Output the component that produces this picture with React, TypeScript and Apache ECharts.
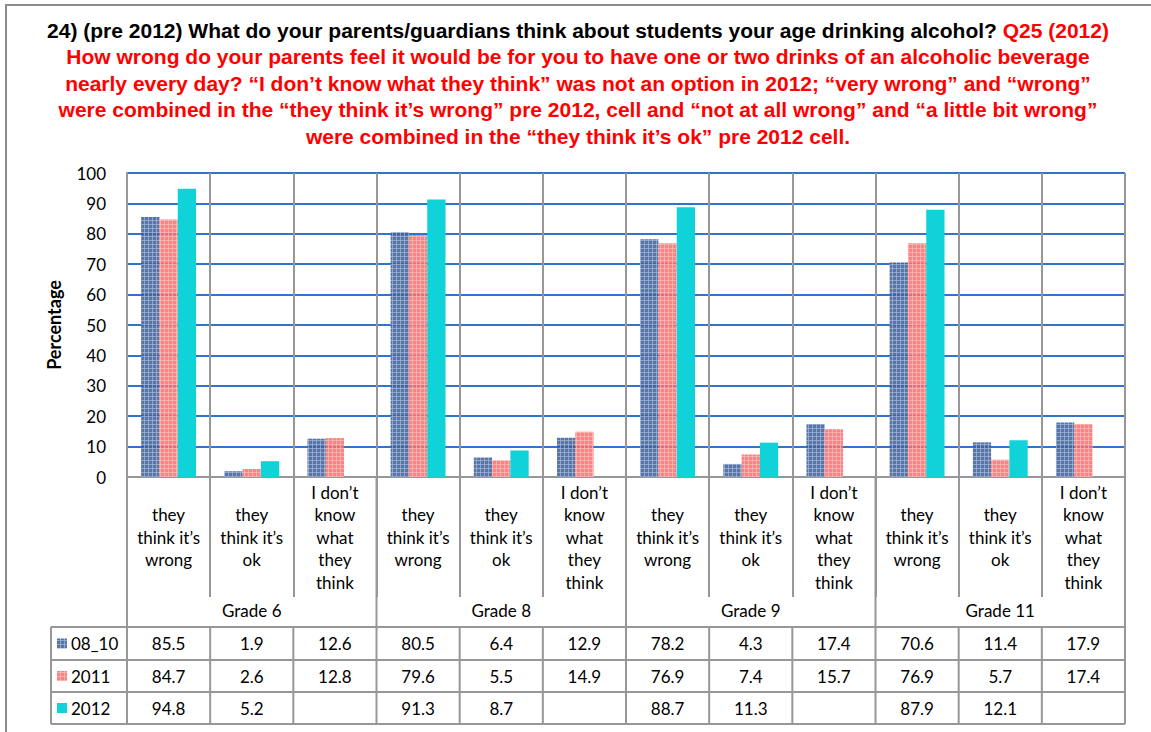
import React, { useEffect, useRef } from "react";
import * as echarts from "echarts";

const categories = [
  "\nthey\nthink it’s\nwrong", "\nthey\nthink it’s\nok", "I don’t\nknow\nwhat\nthey\nthink",
  "\nthey\nthink it’s\nwrong", "\nthey\nthink it’s\nok", "I don’t\nknow\nwhat\nthey\nthink",
  "\nthey\nthink it’s\nwrong", "\nthey\nthink it’s\nok", "I don’t\nknow\nwhat\nthey\nthink",
  "\nthey\nthink it’s\nwrong", "\nthey\nthink it’s\nok", "I don’t\nknow\nwhat\nthey\nthink",
];
const groups = ["Grade 6", "Grade 8", "Grade 9", "Grade 11"];
const seriesNames = ["08_10", "2011", "2012"];
const s0810 = [85.5, 1.9, 12.6, 80.5, 6.4, 12.9, 78.2, 4.3, 17.4, 70.6, 11.4, 17.9];
const s2011 = [84.7, 2.6, 12.8, 79.6, 5.5, 14.9, 76.9, 7.4, 15.7, 76.9, 5.7, 17.4];
const s2012 = [94.8, 5.2, null, 91.3, 8.7, null, 88.7, 11.3, null, 87.9, 12.1, null];
const yTicks = { min: 0, max: 100, interval: 10 };

const FONT = "Lato";
const GRAY = "#979797";
const BLUE = "#2f74cf";

function makePattern(base: string, light: string): string {
  const c = document.createElement("canvas");
  c.width = 4;
  c.height = 4;
  const ctx = c.getContext("2d")!;
  ctx.fillStyle = base;
  ctx.fillRect(0, 0, 4, 4);
  ctx.fillStyle = light;
  ctx.fillRect(0, 0, 4, 1);
  ctx.fillRect(0, 0, 1, 4);
  return c.toDataURL();
}

export default function App() {
  const ref = useRef<HTMLDivElement>(null);
  useEffect(() => {
    const el = ref.current!;
    const chart = echarts.init(el, null, { renderer: "svg" });
    const pBlue = { image: makePattern("rgba(65,98,152,0.88)", "rgba(165,185,218,0.7)"), repeat: "repeat" };
    const pPink = { image: makePattern("rgba(248,110,110,0.85)", "rgba(255,185,185,0.75)"), repeat: "repeat" };
    const cyan = "#10d2d9";
    const fills: any[] = [pBlue, pPink, cyan];
    const data = [s0810, s2011, s2012];

    const title =
      "{b|24) (pre 2012) What do your parents/guardians think about students your age drinking alcohol? }{r|Q25 (2012)}\n" +
      "{r|How wrong do your parents feel it would be for you to have one or two drinks of an alcoholic beverage}\n" +
      "{r|nearly every day? “I don’t know what they think” was not an option in 2012; “very wrong” and “wrong”}\n" +
      "{r|were combined in the “they think it’s wrong” pre 2012, cell and “not at all wrong” and “a little bit wrong”}\n" +
      "{r|were combined in the “they think it’s ok” pre 2012 cell.}";
    const tStyle = { fontFamily: "Liberation Sans", fontWeight: "bold", fontSize: 21, lineHeight: 26.5, align: "center" };

    const option: any = {
      animation: false,
      backgroundColor: "#ffffff",
      grid: { left: 127, right: 26, top: 173, bottom: 255 },
      xAxis: [
        {
          type: "category",
          data: categories,
          axisLine: { show: true, lineStyle: { color: GRAY, width: 2 } },
          axisTick: { show: true, interval: 0, length: 120, lineStyle: { color: GRAY, width: 2 } },
          splitLine: { show: true, interval: 0, lineStyle: { color: GRAY, width: 2 } },
          axisLabel: {
            interval: 0,
            margin: 4,
            color: "#000",
            fontFamily: FONT,
            fontSize: 17,
            lineHeight: 22.5,
          },
        },
        {
          type: "category",
          data: groups,
          position: "bottom",
          axisLine: { show: false },
          axisTick: { show: false },
          splitLine: { show: false },
          axisLabel: { interval: 0, margin: 125, color: "#000", fontFamily: FONT, fontSize: 17 },
        },
      ],
      yAxis: {
        type: "value",
        ...yTicks,
        name: "Percentage",
        nameLocation: "middle",
        nameGap: 64,
        nameRotate: 90,
        nameTextStyle: { fontFamily: FONT, fontWeight: "bold", fontSize: 18, color: "#000" },
        axisLine: { show: true, lineStyle: { color: GRAY, width: 2 } },
        axisTick: { show: false },
        splitLine: { show: true, lineStyle: { color: BLUE, width: 2 } },
        axisLabel: { margin: 21, color: "#000", fontFamily: FONT, fontSize: 17 },
      },
      series: data.map((d, i) => ({
        name: seriesNames[i],
        type: "bar",
        xAxisIndex: 0,
        data: d,
        barGap: "0%",
        barCategoryGap: "34%",
        itemStyle: { color: fills[i] },
      })),
    };
    chart.setOption(option);

    const xs = categories.map((_, i) => chart.convertToPixel({ xAxisIndex: 0 }, i) as number);
    const catW = xs[1] - xs[0];
    const left = xs[0] - catW / 2;
    const right = xs[xs.length - 1] + catW / 2;
    const yZero = chart.convertToPixel({ yAxisIndex: 0 }, 0) as number;
    const rowY = [627, 660, 692, 724];
    const tableLeft = 51;
    const lineStyle = { stroke: GRAY, lineWidth: 2 };
    const g: any[] = [];
    g.push({ type: "rect", shape: { x: 6, y: 5, width: 1200, height: 800 }, style: { fill: "none", stroke: "#8c8c8c", lineWidth: 2 }, silent: true });
    g.push({
      type: "text",
      x: 578,
      y: 17,
      style: {
        text: title,
        align: "center",
        verticalAlign: "top",
        rich: {
          b: { ...tStyle, fill: "#000000" },
          r: { ...tStyle, fill: "#ff0000" },
        },
      },
    });
    for (let b = 0; b <= categories.length; b++) {
      const x = left + b * catW;
      if (b % 3 === 0) {
        g.push({ type: "line", shape: { x1: x, y1: yZero, x2: x, y2: rowY[3] }, style: lineStyle });
      } else {
        g.push({ type: "line", shape: { x1: x, y1: rowY[0], x2: x, y2: rowY[3] }, style: lineStyle });
      }
    }
    g.push({ type: "line", shape: { x1: tableLeft, y1: rowY[0], x2: tableLeft, y2: rowY[3] }, style: lineStyle });
    rowY.forEach((y) => g.push({ type: "line", shape: { x1: tableLeft, y1: y, x2: right, y2: y }, style: lineStyle }));
    data.forEach((d, r) => {
      const cy = (rowY[r] + rowY[r + 1]) / 2;
      g.push({ type: "rect", shape: { x: 57, y: cy - 5, width: 10, height: 10 }, style: { fill: fills[r] } });
      g.push({ type: "text", x: 71, y: cy, style: { text: seriesNames[r], fontFamily: FONT, fontSize: 17, fill: "#000", verticalAlign: "middle", align: "left" } });
      d.forEach((v, i) => {
        if (v == null) return;
        g.push({ type: "text", x: xs[i], y: cy, style: { text: v.toFixed(1), fontFamily: FONT, fontSize: 17, fill: "#000", verticalAlign: "middle", align: "center" } });
      });
    });
    chart.setOption({ graphic: g });
    return () => chart.dispose();
  }, []);
  return <div ref={ref} style={{ position: "fixed", left: 0, top: 0, width: 1151, height: 732, background: "#fff" }} />;
}
